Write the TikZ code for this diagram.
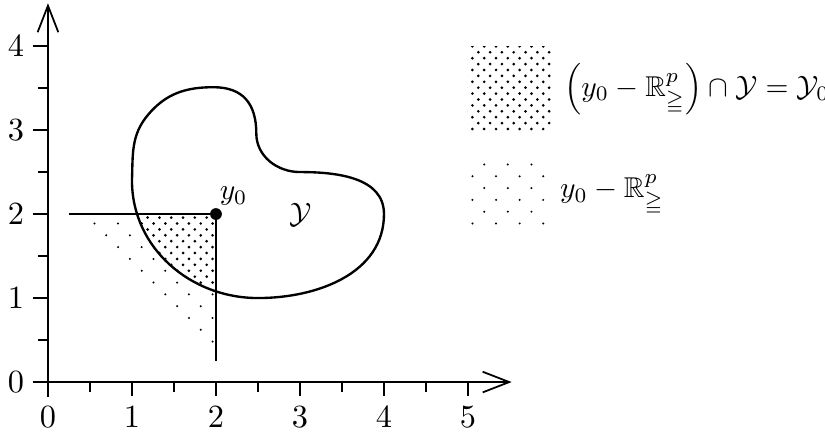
\documentclass[tikz,border=0pt]{standalone}
\usepackage{amsmath,amssymb}
\usetikzlibrary{patterns,arrows.meta}
\pgfdeclarepatternformonly{densedots}{\pgfqpoint{-1pt}{-1pt}}{\pgfqpoint{3pt}{3pt}}{\pgfqpoint{4pt}{4pt}}{%
  \pgfpathcircle{\pgfqpoint{0pt}{0pt}}{.5pt}%
  \pgfpathcircle{\pgfqpoint{2pt}{2pt}}{.5pt}%
  \pgfusepath{fill}}
\pgfdeclarepatternformonly{sparsedots}{\pgfqpoint{-1pt}{-1pt}}{\pgfqpoint{7pt}{7pt}}{\pgfqpoint{8pt}{8pt}}{%
  \pgfpathcircle{\pgfqpoint{0pt}{0pt}}{.38pt}%
  \pgfpathcircle{\pgfqpoint{4pt}{4pt}}{.38pt}%
  \pgfusepath{fill}}
\newcommand\kidneypath{(1.0,2.4) to[out=88,in=230] (1.19,3.18) to[out=50,in=180] (1.97,3.51)
    to[out=0,in=90,looseness=1.2] (2.48,2.96) to[out=-90,in=180] (3.0,2.5)
    to[out=0,in=90] (4,2) to[out=-90,in=0] (2.5,1.0) to[out=180,in=-90] cycle}
\tikzset{
  axis/.style={line width=0.6pt,-{Straight Barb[length=9pt,width=7pt,line width=0.6pt]}},
  tick/.style={line width=0.6pt},
  setcurve/.style={line width=0.8pt},
  dense/.style={pattern=densedots},
  sparse/.style={pattern=sparsedots},
  lab/.style={inner sep=0pt},
  ticklab/.style={inner sep=0pt,font=\fontsize{11}{13}\selectfont},
  leglab/.style={inner sep=0pt,anchor=west,font=\fontsize{9.7}{11.6}\selectfont},
}
\begin{document}
\begin{tikzpicture}
\useasboundingbox (-0.571,-0.643) rectangle (9.25,4.548);
% sparse region
\fill[sparse] (0.25,2) -- (2,2) -- (2,0.25) -- cycle;
% dense region
\begin{scope}
  \clip (0.2,0.2) rectangle (2,2);
  \fill[white] \kidneypath;
  \fill[dense] \kidneypath;
\end{scope}
% axes
\draw[axis] (-0.18,0) coordinate (xs) -- (5.52,0) coordinate (xe);
\draw[axis] (0,-0.18) coordinate (ys) -- (0,4.51) coordinate (ye);
\foreach \i in {0,...,5} {
  \draw[tick] (\i,0) -- (\i,-0.17);
  \node[ticklab] (xl\i) at (\i,-0.42) {$\i$};
}
\foreach \i in {0.5,1.5,2.5,3.5,4.5} \draw[tick] (\i,0) -- (\i,-0.12);
\foreach \i in {0,...,4} {
  \draw[tick] (0,\i) -- (-0.18,\i);
  \node[ticklab] (yl\i) at (-0.38,\i) {$\i$};
}
\foreach \i in {0.5,1.5,2.5,3.5} \draw[tick] (0,\i) -- (-0.12,\i);
% set Y
\draw[setcurve] \kidneypath;
% cone lines
\coordinate (h0) at (0.25,2);
\coordinate (v0) at (2,0.25);
\node[circle,fill,inner sep=0pt,minimum size=4pt] (y0) at (2,2) {};
\draw[line width=0.6pt] (h0) -- (y0.center) -- (v0);
\node[lab] (y0l) at (2.21,2.21) {$y_0$};
\node[lab] (Yl) at (3.01,1.99) {$\mathcal{Y}$};
% legend
\fill[dense] (5,3) rectangle (6,4);
\fill[sparse] (5,1.8) rectangle (6,2.7);
\node[leglab] (leg1) at (6.14,3.49) {$\left(y_0 - \mathbb{R}^p_{\geqq}\right) \cap \mathcal{Y} = \mathcal{Y}_0$};
\node[leglab] (leg2) at (6.09,2.23) {$y_0 - \mathbb{R}^p_{\geqq}$};
\end{tikzpicture}
\end{document}
